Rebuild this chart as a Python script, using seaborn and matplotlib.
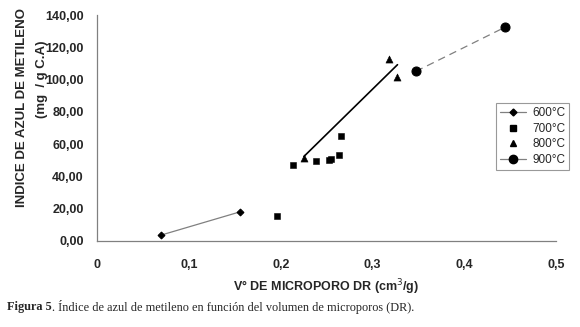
import pandas as pd
import matplotlib
matplotlib.use("Agg")
import matplotlib.pyplot as plt
import seaborn as sns
from matplotlib.ticker import FuncFormatter
from matplotlib.lines import Line2D

# values
x600 = [0.069, 0.155]
y600 = [3.6, 18.0]
x700 = [0.196, 0.213, 0.238, 0.252, 0.254, 0.263, 0.265]
y700 = [15.3, 47.1, 49.8, 50.0, 51.0, 53.5, 65.1]
x800 = [0.225, 0.318, 0.327]
y800 = [51.6, 112.8, 101.4]
x900 = [0.347, 0.444]
y900 = [105.1, 132.4]

xticks = [0, 0.1, 0.2, 0.3, 0.4, 0.5]
yticks = [0, 20, 40, 60, 80, 100, 120, 140]

sns.set_style("white")
plt.rcParams['font.family'] = ['Liberation Sans', 'DejaVu Sans']

fig = plt.figure(figsize=(5.8, 3.27), dpi=100)
ax = fig.add_axes([0.168, 0.263, 0.791, 0.691])

grey = "#808080"
sns.lineplot(x=x600, y=y600, ax=ax, color=grey, lw=0.9, marker="D", markersize=3.5,
             markerfacecolor="black", markeredgecolor="black")
sns.scatterplot(x=x700, y=y700, ax=ax, marker="s", s=22, color="black", edgecolor="black")
sns.scatterplot(x=x800, y=y800, ax=ax, marker="^", s=26, color="black", edgecolor="black")
# linear trend of the 800 C series
sns.regplot(x=pd.Series(x800), y=pd.Series(y800), ax=ax, ci=None, scatter=False,
            line_kws={"color": "black", "lw": 1.2})
sns.lineplot(x=x900, y=y900, ax=ax, color=grey, lw=0.9, linestyle=(0, (6, 4)), marker="o",
             markersize=6.5, markerfacecolor="black", markeredgecolor="black")

ax.set_xlim(0, 0.5)
ax.set_ylim(0, 140)
ax.set_xticks(xticks)
ax.set_yticks(yticks)
ax.xaxis.set_major_formatter(FuncFormatter(lambda v, p: "0" if v == 0 else f"{v:.1f}".replace(".", ",")))
ax.yaxis.set_major_formatter(FuncFormatter(lambda v, p: f"{v:.2f}".replace(".", ",")))
for lab in ax.get_xticklabels() + ax.get_yticklabels():
    lab.set_fontweight("bold")
    lab.set_fontsize(9)
ax.tick_params(axis="both", direction="out", length=4, width=0.8, color=grey, pad=6)
ax.tick_params(axis="x", pad=9)
sns.despine(ax=ax)
for s in ["left", "bottom"]:
    ax.spines[s].set_color(grey)
    ax.spines[s].set_linewidth(0.9)
ax.set_xlabel("")
ax.set_ylabel("")

fig.text(0.563, 0.122, "V° DE MICROPORO DR (cm$^{3}$/g)", ha="center", va="center",
         fontsize=9, fontweight="bold")
fig.text(0.038, 0.671, "INDICE DE AZUL DE METILENO", rotation=90, ha="center", va="center",
         fontsize=9.5, fontweight="bold")
fig.text(0.072, 0.758, "(mg  / g C.A)", rotation=90, ha="center", va="center",
         fontsize=9.5, fontweight="bold")

handles = [
    Line2D([], [], color=grey, lw=0.9, marker="D", markersize=3.5, markerfacecolor="black", markeredgecolor="black"),
    Line2D([], [], lw=0, marker="s", markersize=4.5, color="black"),
    Line2D([], [], lw=0, marker="^", markersize=5, color="black"),
    Line2D([], [], color=grey, lw=0.9, marker="o", markersize=6, markerfacecolor="black", markeredgecolor="black"),
]
leg = fig.legend(handles, ["600°C", "700°C", "800°C", "900°C"], loc="upper left",
                 bbox_to_anchor=(0.845, 0.703), fontsize=8.5, frameon=True, fancybox=False,
                 handlelength=2.2, borderpad=0.35, labelspacing=0.3, handletextpad=0.5)
leg.get_frame().set_edgecolor(grey)
leg.get_frame().set_linewidth(0.8)

serif = ["Liberation Serif", "DejaVu Serif"]
t1 = fig.text(0.012, 0.061, "Figura 5", fontsize=8.8, fontweight="bold", family=serif,
              ha="left", va="center")
fig.canvas.draw()
bb = t1.get_window_extent().transformed(fig.transFigure.inverted())
fig.text(bb.x1, 0.061, ". Índice de azul de metileno en función del volumen de microporos (DR).",
         fontsize=8.8, family=serif, ha="left", va="center")

fig.savefig("out.png", dpi=100)
